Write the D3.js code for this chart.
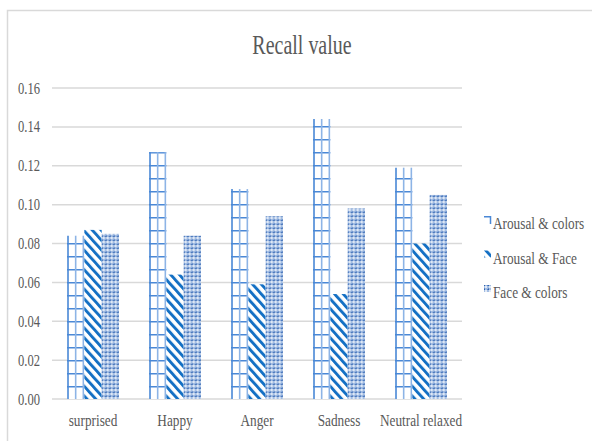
<!DOCTYPE html>
<html>
<head>
<meta charset="utf-8">
<script src="https://cdn.jsdelivr.net/npm/d3@7"></script>
<style>
  body { margin: 0; background: #fff; }
  svg { display: block; }
  text { font-family: "Liberation Serif", "Times New Roman", serif; fill: #595959; }
</style>
</head>
<body>
<svg id="chart" width="592" height="441"></svg>
<script>
"use strict";

const categories = ["surprised", "Happy", "Anger", "Sadness", "Neutral relaxed"];
const seriesNames = ["Arousal & colors", "Arousal & Face", "Face & colors"];
const arousalColors = [0.084, 0.127, 0.108, 0.144, 0.119];
const arousalFace = [0.087, 0.064, 0.059, 0.054, 0.080];
const faceColors = [0.085, 0.084, 0.094, 0.098, 0.105];
const yTicks = [0, 0.02, 0.04, 0.06, 0.08, 0.10, 0.12, 0.14, 0.16];

const seriesValues = [arousalColors, arousalFace, faceColors];
const patternIds = ["grid", "stripes", "dots"];

let svg = d3.select('#chart');
const squeeze = 0.74;  // text in the picture is narrow

// outer chart border
svg.append('rect')
   .attr('x', 7.5).attr('y', 10.5)
   .attr('width', 620).attr('height', 460)
   .attr('fill', 'none')
   .attr('stroke', '#d9d9d9')
   .attr('stroke-width', 1.5);

const y = d3.scaleLinear().domain([0, 0.16]).range([399, 88]);
const x0 = d3.scaleBand()
             .domain(categories)
             .range([52, 462])
             .paddingInner(0.366)
             .paddingOuter(0.183);
const x1 = d3.scaleBand()
             .domain(seriesNames)
             .range([0, x0.bandwidth()]);
const bw = x1.bandwidth();

// Patterns
let defs = svg.append('defs');

// horizontal rungs for the grid bars, anchored at the baseline
let grid = defs.append('pattern')
               .attr('id', 'grid')
               .attr('patternUnits', 'userSpaceOnUse')
               .attr('width', 40)
               .attr('height', 13)
               .attr('y', y(0) % 13);
grid.append('rect').attr('width', 40).attr('height', 13).attr('fill', '#fff');
grid.append('line')
    .attr('x1', 0).attr('x2', 40)
    .attr('y1', 0.75).attr('y2', 0.75)
    .attr('stroke', '#4a88d6').attr('stroke-width', 1.6);

let stripes = defs.append('pattern')
                  .attr('id', 'stripes')
                  .attr('patternUnits', 'userSpaceOnUse')
                  .attr('width', 6.5)
                  .attr('height', 10)
                  .attr('patternTransform', 'rotate(-42)');
stripes.append('rect').attr('width', 6.5).attr('height', 10).attr('fill', '#fff');
stripes.append('rect').attr('width', 2.9).attr('height', 10).attr('fill', '#1470c4');

let dots = defs.append('pattern')
               .attr('id', 'dots')
               .attr('patternUnits', 'userSpaceOnUse')
               .attr('width', 4)
               .attr('height', 4);
dots.append('rect').attr('width', 4).attr('height', 4).attr('fill', '#a3bde3');
dots.append('circle').attr('cx', 2).attr('cy', 2).attr('r', 1).attr('fill', '#f4f7fc');
dots.append('rect').attr('x', 0).attr('y', 0).attr('width', 1).attr('height', 1).attr('fill', '#2f62ad');
dots.append('rect').attr('x', 3).attr('y', 0).attr('width', 1).attr('height', 1).attr('fill', '#5d86c6');
dots.append('rect').attr('x', 0).attr('y', 3).attr('width', 1).attr('height', 1).attr('fill', '#5d86c6');

// Gridlines
svg.append('g')
   .selectAll('line')
   .data(yTicks)
   .enter()
   .append('line')
   .attr('x1', 52).attr('x2', 462)
   .attr('y1', d => y(d)).attr('y2', d => y(d))
   .attr('stroke', '#d9d9d9')
   .attr('stroke-width', 1.5);

// Y tick labels
svg.append('g')
   .selectAll('text')
   .data(yTicks)
   .enter()
   .append('text')
   .attr('transform', d => `translate(40, ${y(d) + 5.5}) scale(${squeeze}, 1)`)
   .attr('text-anchor', 'end')
   .attr('font-size', 17)
   .text(d => d.toFixed(2));

// Bars
let rows = [];
categories.forEach((c, i) => {
  seriesNames.forEach((s, j) => {
    rows.push({ cat: c, series: s, idx: j, value: seriesValues[j][i] });
  });
});

let bars = svg.append('g')
              .selectAll('g')
              .data(rows)
              .enter()
              .append('g')
              .attr('transform', d => `translate(${x0(d.cat) + x1(d.series)}, 0)`);

bars.append('rect')
    .attr('x', 0)
    .attr('width', bw)
    .attr('y', d => y(d.value))
    .attr('height', d => y(0) - y(d.value))
    .attr('fill', d => `url(#${patternIds[d.idx]})`);

// vertical rails on the grid bars
let gridBars = bars.filter(d => d.idx === 0);
[[1, '#4a88d6'], [bw / 2, '#8db4e6'], [bw - 1, '#8db4e6']].forEach(([vx, col]) => {
  gridBars.append('line')
          .attr('x1', vx).attr('x2', vx)
          .attr('y1', d => y(d.value)).attr('y2', y(0))
          .attr('stroke', col)
          .attr('stroke-width', 1.6);
});

// Category labels
svg.append('g')
   .selectAll('text')
   .data(categories)
   .enter()
   .append('text')
   .attr('transform', d => `translate(${x0(d) + x0.bandwidth() / 2}, 426) scale(${squeeze + 0.04}, 1)`)
   .attr('text-anchor', 'middle')
   .attr('font-size', 17)
   .text(d => d);

// Title
svg.append('text')
   .attr('transform', `translate(302, 54) scale(${squeeze}, 1)`)
   .attr('text-anchor', 'middle')
   .attr('font-size', 27)
   .text('Recall value');

// Legend
let legend = svg.append('g')
                .selectAll('g')
                .data(seriesNames)
                .enter()
                .append('g')
                .attr('transform', (d, i) => `translate(484, ${216 + i * 34.5})`);

legend.filter((d, i) => i > 0)
      .append('rect')
      .attr('width', 7)
      .attr('height', 7)
      .attr('fill', (d, i) => `url(#${patternIds[i + 1]})`);

// the grid swatch only shows one rung and one rail
let gridKey = legend.filter((d, i) => i === 0);
gridKey.append('path')
       .attr('d', 'M0,0.8H6.5V8')
       .attr('fill', 'none')
       .attr('stroke', '#4a88d6')
       .attr('stroke-width', 1.5);

legend.append('text')
      .attr('transform', `translate(9, 13) scale(${squeeze + 0.04}, 1)`)
      .attr('font-size', 17)
      .text(d => d);
</script>
</body>
</html>
